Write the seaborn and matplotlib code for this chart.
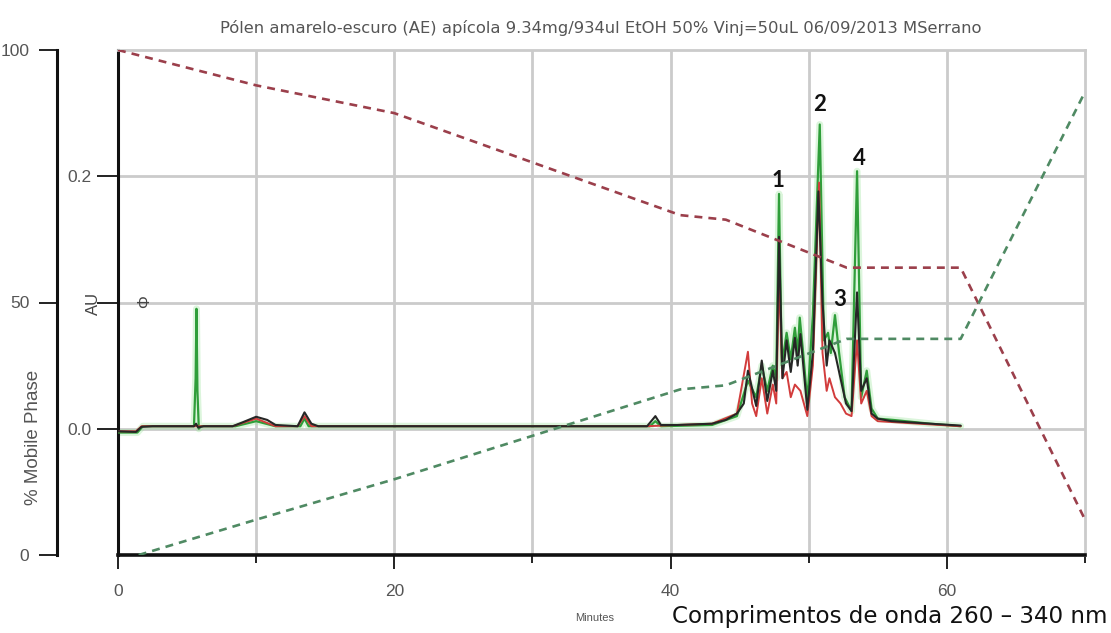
import matplotlib
matplotlib.use("Agg")
import matplotlib.pyplot as plt
import seaborn as sns
import pandas as pd

# ---- chromatogram traces (minutes, AU) ----
t_green = [0, 1.4, 1.8, 5.5, 5.62, 5.68, 5.75, 5.85, 6.0, 8.5, 10.0, 11.4, 13.2, 13.5, 13.8,
           38.5, 38.9, 39.3, 43.0, 44.8, 45.6, 46.2, 46.6, 47.0, 47.4, 47.65, 47.85, 48.05,
           48.4, 48.7, 49.0, 49.2, 49.35, 49.6, 49.9, 50.3, 50.8, 51.1, 51.4, 51.6, 51.9,
           52.2, 52.6, 53.1, 53.5, 53.8, 54.2, 54.55, 55.0, 56.1, 58.8, 61.0]
au_green = [-0.003, -0.003, 0.002, 0.002, 0.04, 0.095, 0.03, 0.0, 0.002, 0.002, 0.006, 0.002,
            0.002, 0.008, 0.002, 0.002, 0.006, 0.002, 0.003, 0.010, 0.038, 0.025, 0.050, 0.030,
            0.050, 0.040, 0.186, 0.050, 0.076, 0.055, 0.080, 0.060, 0.088, 0.060, 0.022, 0.090,
            0.241, 0.070, 0.076, 0.060, 0.090, 0.060, 0.025, 0.014, 0.204, 0.025, 0.046, 0.016,
            0.008, 0.007, 0.004, 0.002]

t_red = [0, 1.3, 1.7, 8.3, 10.0, 11.4, 13.0, 13.5, 14.0, 38.3, 40.5, 43.0, 44.8, 45.6, 45.9,
         46.2, 46.6, 47.0, 47.4, 47.65, 47.85, 48.1, 48.4, 48.7, 49.0, 49.4, 49.9, 50.3, 50.75,
         51.0, 51.3, 51.5, 51.9, 52.3, 52.7, 53.1, 53.5, 53.8, 54.2, 54.55, 55.0, 61.0]
au_red = [-0.002, -0.002, 0.002, 0.002, 0.008, 0.002, 0.002, 0.010, 0.002, 0.002, 0.003, 0.004,
          0.012, 0.061, 0.020, 0.010, 0.040, 0.012, 0.035, 0.020, 0.120, 0.040, 0.045, 0.025,
          0.035, 0.030, 0.010, 0.050, 0.195, 0.060, 0.030, 0.040, 0.025, 0.020, 0.012, 0.010,
          0.070, 0.020, 0.030, 0.010, 0.006, 0.002]

t_black = [0, 1.3, 1.7, 2.5, 5.5, 5.65, 5.8, 6.2, 8.3, 9.0, 10.0, 10.8, 11.4, 13.0, 13.5, 14.0,
           14.5, 38.3, 38.9, 39.3, 40.5, 43.0, 44.0, 44.8, 45.3, 45.6, 46.2, 46.6, 47.0, 47.4,
           47.65, 47.85, 48.1, 48.4, 48.7, 49.0, 49.2, 49.4, 49.9, 50.3, 50.7, 51.0, 51.3,
           51.5, 51.9, 52.3, 52.7, 53.1, 53.5, 53.8, 54.2, 54.55, 55.0, 56.0, 58.8, 61.0]
au_black = [-0.002, -0.0025, 0.0015, 0.002, 0.002, 0.004, 0.001, 0.002, 0.002, 0.005, 0.0095,
            0.007, 0.003, 0.002, 0.013, 0.004, 0.002, 0.002, 0.010, 0.003, 0.003, 0.004, 0.007,
            0.012, 0.020, 0.046, 0.018, 0.054, 0.022, 0.046, 0.030, 0.152, 0.040, 0.070, 0.045,
            0.072, 0.050, 0.075, 0.015, 0.060, 0.188, 0.100, 0.050, 0.070, 0.060, 0.040, 0.020,
            0.014, 0.108, 0.030, 0.040, 0.012, 0.008, 0.006, 0.004, 0.0025]

# ---- mobile phase gradient (minutes, %) ----
t_phase_a = [0, 10, 20, 40.7, 44.0, 52.75, 61.0, 70.0]
pct_phase_a = [100, 93, 87.5, 67.3, 66.4, 56.9, 56.9, 7.0]
t_phase_b = [1.5, 10, 20, 40.7, 44.0, 52.75, 61.0, 70.0]
pct_phase_b = [0, 7, 15, 32.8, 33.6, 42.8, 42.8, 91.7]

# ---- labels ----
peak_names = ["1", "2", "3", "4"]
peak_t = [47.76, 50.8, 52.24, 53.7]
peak_au = [0.197, 0.257, 0.102, 0.214]
x_major = [0, 20, 40, 60]
x_minor = [10, 30, 50, 70]
au_ticks = [0.0, 0.1, 0.2]
au_tick_labels = ["0.0", "", "0.2"]
pct_ticks = [0, 50, 100]
pct_tick_labels = ["0", "50", "100"]
title = "Pólen amarelo-escuro (AE) apícola 9.34mg/934ul EtOH 50% Vinj=50uL 06/09/2013 MSerrano"
caption = "Comprimentos de onda 260 – 340 nm"

sns.set_style("white")
plt.rcParams["font.family"] = ["Liberation Sans", "DejaVu Sans"]

W, H = 1111, 633
fig = plt.figure(figsize=(W / 100, H / 100), dpi=100)
L, R, T, B = 118, 1085, 50, 555
ax = fig.add_axes([L / W, 1 - B / H, (R - L) / W, (B - T) / H])
ax.set_xlim(0, 70)
ax.set_ylim(-0.1, 0.3)

grid_c = "#cbcbcb"
for xv in [10, 20, 30, 40, 50, 60]:
    ax.axvline(xv, color=grid_c, lw=2, zorder=0)
for yv in au_ticks:
    ax.axhline(yv, color=grid_c, lw=2, zorder=0)

traces = pd.concat([
    pd.DataFrame({"t": t_green, "au": au_green, "trace": "g"}),
    pd.DataFrame({"t": t_red, "au": au_red, "trace": "r"}),
    pd.DataFrame({"t": t_black, "au": au_black, "trace": "k"}),
])

g = traces[traces.trace == "g"]
sns.lineplot(data=g, x="t", y="au", ax=ax, color="#9be59b", lw=5, alpha=0.35,
             estimator=None, sort=False, zorder=2)
sns.lineplot(data=g, x="t", y="au", ax=ax, color="#2f9e3a", lw=1.6,
             estimator=None, sort=False, zorder=3)
sns.lineplot(data=traces[traces.trace == "r"], x="t", y="au", ax=ax, color="#d23c3c",
             lw=1.4, estimator=None, sort=False, zorder=4)
sns.lineplot(data=traces[traces.trace == "k"], x="t", y="au", ax=ax, color="#262626",
             lw=1.5, estimator=None, sort=False, zorder=5)

for name, pt, pa in zip(peak_names, peak_t, peak_au):
    ax.text(pt, pa, name, ha="center", va="center", fontsize=16, fontweight="bold",
            family=["Lato", "DejaVu Sans"], color="#111111", zorder=8)

ax.set_xticks(x_major)
ax.set_xticks(x_minor, minor=True)
ax.set_xticklabels([str(v) for v in x_major])
ax.set_yticks(au_ticks)
ax.set_yticklabels(au_tick_labels)
ax.tick_params(axis="x", which="both", direction="out", length=10, width=1.4, color="#222",
               labelsize=12.5, labelcolor="#555555", pad=11, bottom=True)
ax.tick_params(axis="x", which="minor", length=6)
ax.tick_params(axis="y", direction="out", length=15, width=1.4, color="#222",
               labelsize=12.5, labelcolor="#555555", pad=4, left=True)
ax.set_xlabel("")
ax.set_ylabel("")
for s in ["top", "right"]:
    ax.spines[s].set_color(grid_c)
    ax.spines[s].set_linewidth(2)
ax.spines["left"].set_color("#111111")
ax.spines["left"].set_linewidth(2.2)
ax.spines["bottom"].set_color("#111111")
ax.spines["bottom"].set_linewidth(2.6)

# mobile phase axis on the far left
ax2 = ax.twinx()
ax2.set_ylim(0, 100)
ax2.spines["right"].set_visible(False)
ax2.spines["top"].set_visible(False)
ax2.spines["bottom"].set_visible(False)
ax2.spines["left"].set_visible(True)
ax2.spines["left"].set_position(("axes", -61 / (R - L)))
ax2.spines["left"].set_color("#111111")
ax2.spines["left"].set_linewidth(2.2)
ax2.yaxis.set_ticks_position("left")
ax2.yaxis.set_label_position("left")
ax2.set_yticks(pct_ticks)
ax2.set_yticklabels(pct_tick_labels)
ax2.tick_params(axis="y", direction="out", length=13, width=1.4, color="#222",
                labelsize=12.5, labelcolor="#555555", pad=7)

phase = pd.concat([
    pd.DataFrame({"t": t_phase_a, "pct": pct_phase_a, "line": "A"}),
    pd.DataFrame({"t": t_phase_b, "pct": pct_phase_b, "line": "B"}),
])
sns.lineplot(data=phase[phase.line == "A"], x="t", y="pct", ax=ax2, color="#9b3f4b",
             lw=1.9, linestyle=(0, (3, 2.3)), estimator=None, sort=False)
sns.lineplot(data=phase[phase.line == "B"], x="t", y="pct", ax=ax2, color="#4f8a63",
             lw=1.9, linestyle=(0, (3, 2.3)), estimator=None, sort=False)
ax2.set_xlabel("")
ax2.set_ylabel("")
ax2.set_xlim(0, 70)

# axis titles and annotations
fig.text(93 / W, 1 - 303 / H, "AU", rotation=90, ha="center", va="center",
         fontsize=12, color="#444444")
fig.text(145 / W, 1 - 302 / H, "Φ", rotation=90, ha="center", va="center",
         fontsize=11.5, color="#444444")
fig.text(33 / W, 1 - 437 / H, "% Mobile Phase", rotation=90, ha="center", va="center",
         fontsize=13.5, color="#555555")
fig.text(595 / W, 1 - 618 / H, "Minutes", ha="center", va="center", fontsize=8,
         color="#555555")
fig.text(601 / W, 1 - 28 / H, title, ha="center", va="center", fontsize=11.8,
         color="#555555", family=["DejaVu Sans"])
fig.text(1108 / W, 1 - 617 / H, caption, ha="right", va="center", fontsize=16.6,
         color="#111111", family=["DejaVu Sans"])

fig.savefig("out.png", dpi=100)
